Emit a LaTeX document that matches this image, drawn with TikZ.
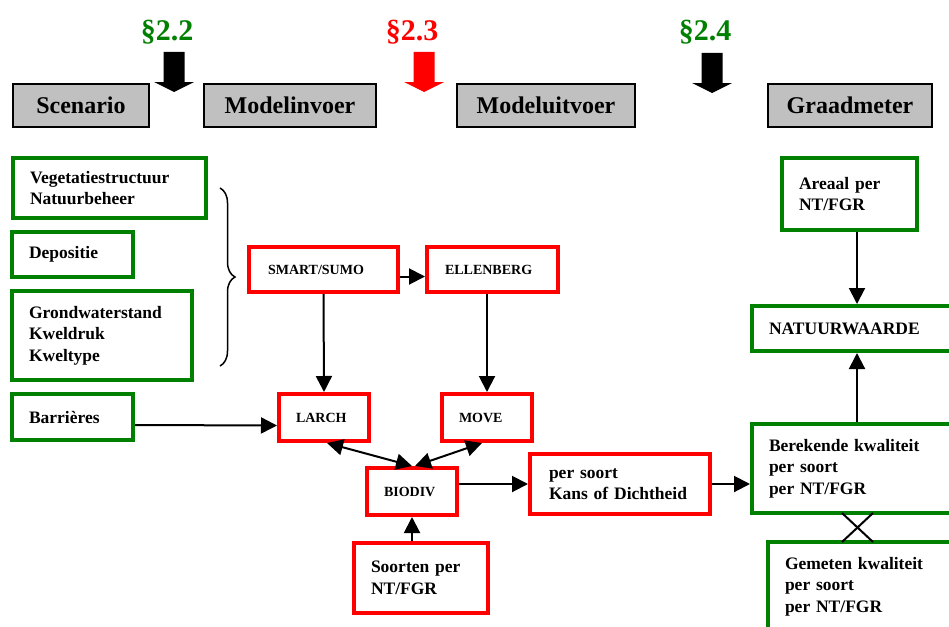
\documentclass[tikz,border=0pt]{standalone}
\usepackage{fontspec}
\setmainfont{Liberation Serif}
\usetikzlibrary{arrows.meta,shapes.misc,decorations.pathreplacing}
\definecolor{kgroen}{RGB}{0,128,0}
\definecolor{krood}{RGB}{255,0,0}
\definecolor{kgrijs}{RGB}{192,192,192}
\tikzset{
  kop/.style={draw=black, fill=kgrijs, line width=1.5pt, minimum height=43pt, inner sep=0pt,
    font=\fontsize{24}{28}\selectfont\bfseries},
  paragraaf/.style={font=\fontsize{30}{34}\selectfont\bfseries},
  groenbox/.style={draw=kgroen, line width=4pt, align=left, inner xsep=17pt, inner ysep=2pt,
    font=\fontsize{17.5}{21.5}\selectfont\bfseries},
  roodbox/.style={draw=krood, line width=4pt, align=left, inner xsep=17pt, inner ysep=2pt,
    font=\fontsize{17.5}{21.5}\selectfont\bfseries},
  model/.style={roodbox, font=\fontsize{14}{16}\selectfont\bfseries},
  pijl/.style={-{Triangle[length=16pt,width=16pt]}, line width=2pt},
  dubbelpijl/.style={{Triangle[length=16pt,width=16pt]}-{Triangle[length=16pt,width=16pt]}, line width=2pt},
  blokpijl/.pic={\fill (-10.5,0) -- (10.5,0) -- (10.5,30) -- (20,30) -- (0,40) -- (-20,30) -- (-10.5,30) -- cycle;}
}
\begin{document}
\begin{tikzpicture}[x=1pt, y=-1pt]
            \useasboundingbox (0,0) rectangle (949,626);
            \clip (0,0) rectangle (949,626);

            \node[paragraaf, text=kgroen] (p22) at (167,32) {§2.2};
            \node[paragraaf, text=krood] (p23) at (412,32) {§2.3};
            \node[paragraaf, text=kgroen] (p24) at (705,32) {§2.4};
            \pic[black] at (174,52) {blokpijl};
            \pic[krood] at (424,52) {blokpijl};
            \pic[black] at (712,53) {blokpijl};

            \node[kop, minimum width=136pt] (scenario) at (81,105.5) {Scenario};
            \node[kop, minimum width=172pt] (invoer) at (290,105.5) {Modelinvoer};
            \node[kop, minimum width=178pt] (uitvoer) at (546,105.5) {Modeluitvoer};
            \node[kop, minimum width=164pt] (graadmeter) at (850,105.5) {Graadmeter};

            \node[groenbox, text width=159pt, minimum height=60pt] (veg) at (109.5,188) {Vegetatiestructuur\\Natuurbeheer};
            \node[groenbox, text width=87pt, minimum height=45pt] (depositie) at (72.5,254.5) {Depositie};
            \node[groenbox, text width=146pt, minimum height=89pt] (grondwater) at (102,335.5) {Grondwaterstand\\Kweldruk\\Kweltype};
            \node[groenbox, text width=87pt, minimum height=46pt] (barrieres) at (72.5,417) {Barrières};
            \draw[decorate, decoration={brace, amplitude=15pt}, line width=1.5pt] (220,188) -- (220,366);

            \node[model, text width=111pt, minimum height=45pt, inner xsep=19pt] (smart) at (323.5,269.5) {SMART/SUMO};
            \node[model, text width=95pt, minimum height=45pt, inner xsep=18pt] (ellenberg) at (492.5,269.5) {ELLENBERG};
            \node[model, text width=56pt, minimum height=47pt] (larch) at (324,417.5) {LARCH};
            \node[model, text width=56pt, minimum height=47pt] (move) at (487,417.5) {MOVE};
            \node[model, text width=56pt, minimum height=47pt] (biodiv) at (412,491.5) {BIODIV};
            \node[roodbox, text width=100pt, minimum height=70pt] (soorten) at (421,578) {Soorten per\\NT/FGR};
            \node[roodbox, text width=142pt, minimum height=60pt, inner xsep=19pt] (kans) at (620,484) {per soort\\Kans of Dichtheid};

            \node[groenbox, text width=101pt, minimum height=72pt] (areaal) at (849.5,194) {Areaal per\\NT/FGR};
            \node[groenbox, text width=176pt, minimum height=45pt] (natuur) at (857,328.5) {NATUURWAARDE};
            \node[groenbox, text width=176pt, minimum height=89pt] (berekend) at (857,468.5) {Berekende kwaliteit\\per soort\\per NT/FGR};
            \node[groenbox, text width=155pt, minimum height=89pt] (gemeten) at (862.5,586.5) {Gemeten kwaliteit\\per soort\\per NT/FGR};
            \node[draw, cross out, line width=2pt, minimum width=29pt, minimum height=27pt, inner sep=0pt] (kruis) at (857.5,527.5) {};

            \draw[pijl] ([yshift=-7pt]smart.east) -- ([yshift=-7pt]ellenberg.west);
            \draw[pijl] (smart.south) -- (larch.north);
            \draw[pijl] (ellenberg.south -| move.north) -- (move.north);
            \draw[pijl] ([yshift=-8pt]barrieres.east) -- ([yshift=-8pt]larch.west);
            \draw[dubbelpijl] ([xshift=3pt]larch.south) -- (biodiv.north);
            \draw[dubbelpijl] ([xshift=-5pt]move.south) -- ([xshift=3pt]biodiv.north);
            \draw[pijl] (biodiv.south |- soorten.north) -- (biodiv.south);
            \draw[pijl] (biodiv.east |- kans.west) -- (kans.west);
            \draw[pijl] (kans.east) -- (kans.east -| berekend.west);
            \draw[pijl] (natuur.north |- areaal.south) -- (natuur.north);
            \draw[pijl] (berekend.north) -- (natuur.south);

        \end{tikzpicture}
\end{document}
